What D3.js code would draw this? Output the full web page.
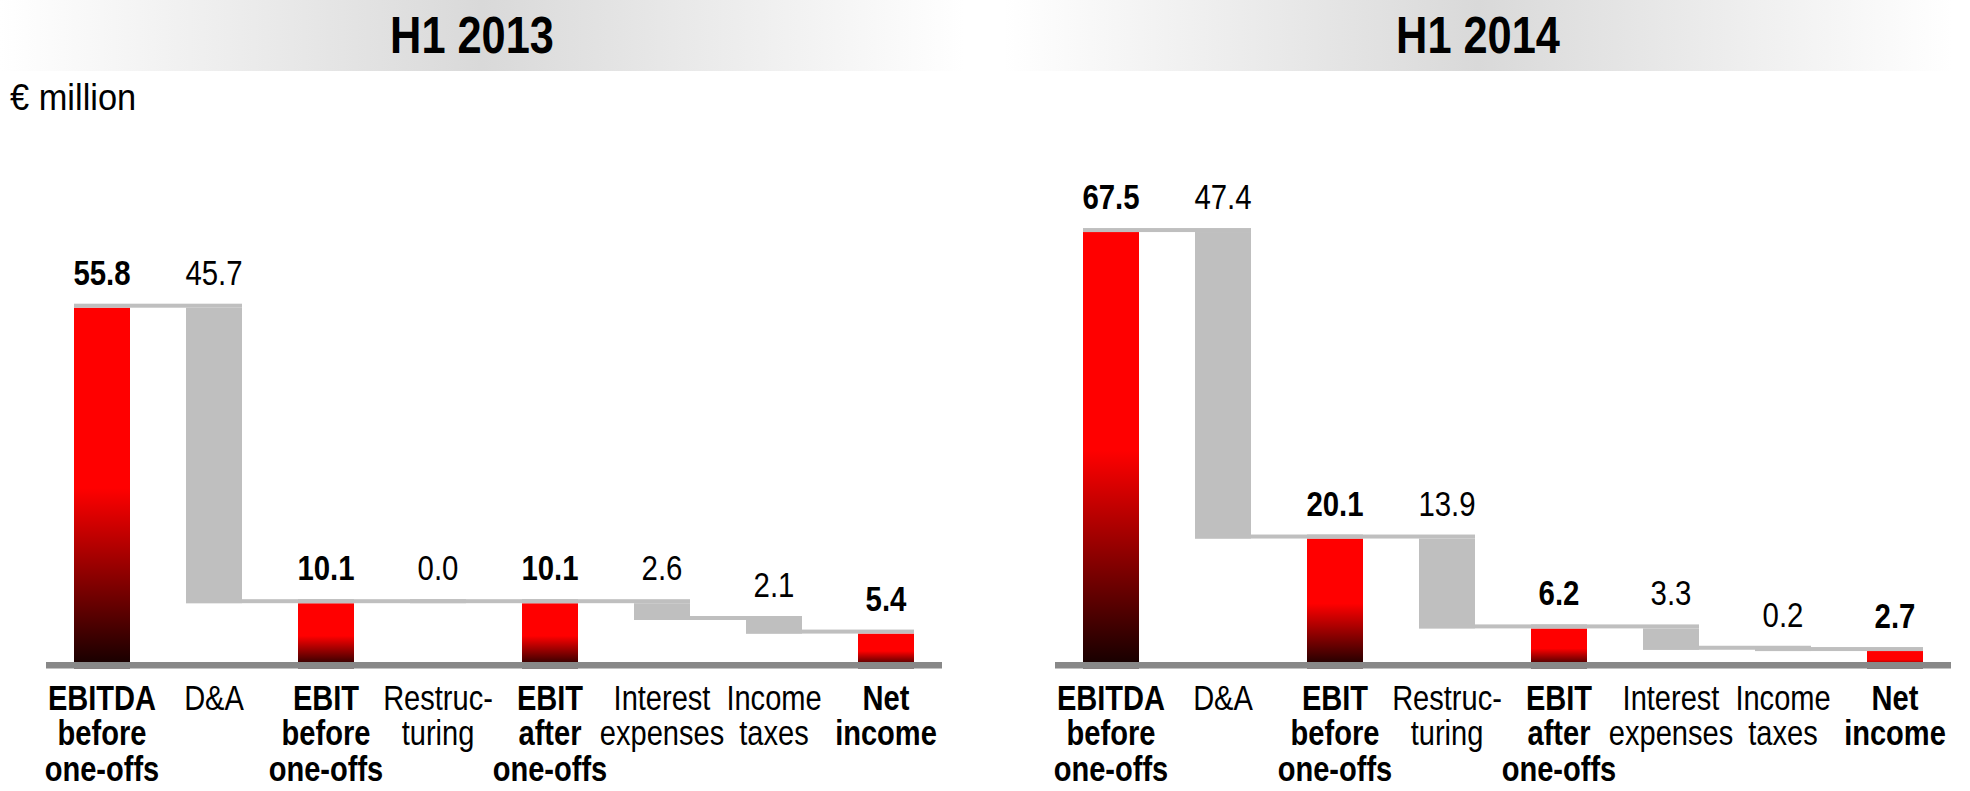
<!DOCTYPE html>
<html>
<head>
<meta charset="utf-8">
<script src="https://cdn.jsdelivr.net/npm/d3@7"></script>
<style>
  html, body { margin: 0; padding: 0; background: #fff; }
  svg { display: block; }
  text { font-family: "Liberation Sans", Arial, sans-serif; }
</style>
</head>
<body>
<script>
// ---------- data ----------
const categories = [
  "EBITDA\nbefore\none-offs",
  "D&A",
  "EBIT\nbefore\none-offs",
  "Restruc-\nturing",
  "EBIT\nafter\none-offs",
  "Interest\nexpenses",
  "Income\ntaxes",
  "Net\nincome"
];
const kinds = ["total", "minus", "total", "minus", "total", "minus", "minus", "total"];
const values2013 = [55.8, 45.7, 10.1, 0.0, 10.1, 2.6, 2.1, 5.4];
const values2014 = [67.5, 47.4, 20.1, 13.9, 6.2, 3.3, 0.2, 2.7];
const panelTitles = ["H1 2013", "H1 2014"];
const unitLabel = "€ million";

// ---------- layout ----------
const W = 1970, H = 791;
const svg = d3.select("body").append("svg").attr("width", W).attr("height", H);
const defs = svg.append("defs");

const hdr = defs.append("linearGradient").attr("id", "hdr").attr("x1", 0).attr("x2", 1).attr("y1", 0).attr("y2", 0);
hdr.append("stop").attr("offset", "0%").attr("stop-color", "#ffffff");
hdr.append("stop").attr("offset", "50%").attr("stop-color", "#d9d9d9");
hdr.append("stop").attr("offset", "100%").attr("stop-color", "#ffffff");

const barGrad = defs.append("linearGradient").attr("id", "barGrad").attr("x1", 0).attr("x2", 0).attr("y1", 0).attr("y2", 1);
barGrad.append("stop").attr("offset", "0%").attr("stop-color", "#ff0000");
barGrad.append("stop").attr("offset", "50%").attr("stop-color", "#ff0000");
barGrad.append("stop").attr("offset", "100%").attr("stop-color", "#120000");

const y = d3.scaleLinear().domain([0, 70]).range([668.5, 668.5 - 70 * 6.466]);

// condensed text helper (Arial Narrow look)
function placeText(sel, x, yy, sx) {
  sel.attr("transform", `translate(${x},${yy}) scale(${sx},1)`);
}

const panels = [
  { title: panelTitles[0], values: values2013, range: [46, 942], band: [0, 964], titleX: 472 },
  { title: panelTitles[1], values: values2014, range: [1055, 1951], band: [1004, 1952], titleX: 1478 }
];

svg.append("text").attr("font-size", 37).attr("fill", "#000").text(unitLabel)
  .call(placeText, 10, 110, 0.93);

panels.forEach(p => {
  // header band
  svg.append("rect").attr("x", p.band[0]).attr("y", 0)
    .attr("width", p.band[1] - p.band[0]).attr("height", 71)
    .attr("fill", "url(#hdr)");
  svg.append("text")
    .attr("text-anchor", "middle").attr("font-size", 51).attr("font-weight", "bold")
    .text(p.title)
    .call(placeText, p.titleX, 53, 0.85);

  const x = d3.scaleBand().domain(categories).range(p.range).paddingInner(0.5).paddingOuter(0.25);
  const bw = x.bandwidth();

  // compute waterfall
  let level = 0;
  const rows = categories.map((c, i) => {
    const v = p.values[i];
    let top, bottom;
    if (kinds[i] === "total") { top = v; bottom = 0; level = v; }
    else { top = level; bottom = level - v; level = bottom; }
    return { c, v, kind: kinds[i], top, bottom, end: level };
  });

  const g = svg.append("g");

  // bars
  g.selectAll("rect.bar").data(rows).enter().append("rect")
    .attr("class", "bar")
    .attr("x", d => x(d.c))
    .attr("y", d => y(d.top))
    .attr("width", bw)
    .attr("height", d => Math.max(0, y(d.bottom) - y(d.top)))
    .attr("fill", d => d.kind === "total" ? "url(#barGrad)" : "#bfbfbf");

  // connectors
  const conns = rows.slice(0, -1).map((d, i) => ({ from: d.c, to: rows[i + 1].c, lvl: d.end }));
  g.selectAll("rect.conn").data(conns).enter().append("rect")
    .attr("class", "conn")
    .attr("x", d => x(d.from))
    .attr("y", d => y(d.lvl) - 4)
    .attr("width", d => x(d.to) + bw - x(d.from))
    .attr("height", 4)
    .attr("fill", "#bfbfbf");

  // baseline
  g.append("rect").attr("x", p.range[0]).attr("y", y(0) - 6.5)
    .attr("width", p.range[1] - p.range[0]).attr("height", 6.5).attr("fill", "#888888");

  // value labels
  g.selectAll("text.val").data(rows).enter().append("text")
    .attr("class", "val")
    .attr("text-anchor", "middle")
    .attr("font-size", 35)
    .attr("font-weight", d => d.kind === "total" ? "bold" : "normal")
    .text(d => d.v.toFixed(1))
    .each(function(d) { placeText(d3.select(this), x(d.c) + bw / 2, y(d.top) - 23, 0.84); });

  // category labels
  const cl = g.selectAll("text.cat").data(rows).enter().append("text")
    .attr("class", "cat")
    .attr("text-anchor", "middle")
    .attr("font-size", 35)
    .attr("font-weight", d => d.kind === "total" ? "bold" : "normal");
  cl.each(function(d) {
    const t = d3.select(this);
    placeText(t, x(d.c) + bw / 2, 710, 0.83);
    d.c.split("\n").forEach((line, k) => {
      t.append("tspan").attr("x", 0).attr("y", k * 35.5).text(line);
    });
  });
});
</script>
</body>
</html>
